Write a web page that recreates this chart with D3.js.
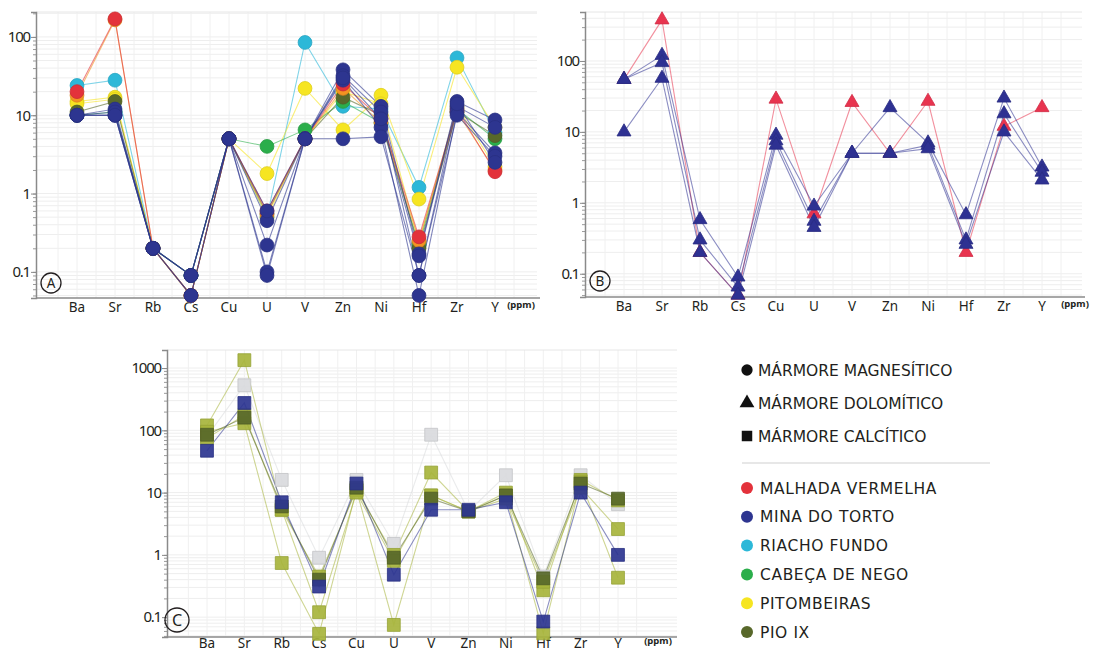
<!DOCTYPE html>
<html lang="pt">
<head>
<meta charset="UTF-8">
<title>Diagramas multielementares</title>
<style>
  body { margin: 0; background: #fff; }
  svg text { font-family: "Noto Sans", "DejaVu Sans", sans-serif; fill: #231f20; }
  svg text.leg { font-family: "DejaVu Sans", sans-serif; }
</style>
</head>
<body>
<div id="graph"></div>
<script src="https://cdn.jsdelivr.net/npm/d3@7/dist/d3.min.js"></script>
<script>
// elementos (eixo x) e rotulos do eixo y
var elements = ["Ba", "Sr", "Rb", "Cs", "Cu", "U", "V", "Zn", "Ni", "Hf", "Zr", "Y"];
var yTicksAB = [0.1, 1, 10, 100];
var yTicksC = [0.1, 1, 10, 100, 1000];

// A - marmore magnesitico (ppm)
var seriesA = [
  { group: "RF",  values: [24, 28, 0.2, 0.09, 5, 0.5, 85, 13, 12, 1.2, 54, 6] },
  { group: "PIT", values: [15, 17, 0.2, 0.05, 5, 1.8, 22, 6.5, 18, 0.85, 41, 7] },
  { group: "PIT", values: [14, 16, 0.2, 0.05, 5, 0.5, 5, 20, 14, 0.24, 13, 2.2] },
  { group: "CN",  values: [10, 11, 0.2, 0.09, 5, 4, 6.5, 15, 8, 0.22, 12, 5] },
  { group: "PIO", values: [11, 15, 0.2, 0.09, 5, 0.55, 5, 17, 10, 0.2, 11, 5.5] },
  { group: "OR",  values: [18, 165, 0.2, 0.05, 5, 0.55, 5, 22, 8, 0.25, 11, 2.0] },
  { group: "MV",  values: [20, 170, 0.2, 0.05, 5, 0.6, 5, 25, 9, 0.28, 12, 1.9] },
  { group: "MT",  values: [10, 10, 0.2, 0.09, 5, 0.45, 5, 38, 13, 0.17, 15, 8.7] },
  { group: "MT",  values: [10, 12, 0.2, 0.05, 5, 0.22, 5, 32, 11, 0.09, 13, 7] },
  { group: "MT",  values: [10, 10, 0.2, 0.09, 5, 0.1, 5, 28, 7, 0.05, 11, 3.3] },
  { group: "MT",  values: [10, 11, 0.2, 0.05, 5, 0.09, 5, 5, 5.3, 0.09, 10, 3] },
  { group: "MT",  values: [10, 10, 0.2, 0.09, 5, 0.6, 5, 30, 9, 0.16, 14, 2.5] }
];

// B - marmore dolomitico (ppm)
var seriesB = [
  { group: "MV", values: [55, 380, 0.2, 0.05, 29, 0.7, 26, 5, 27, 0.2, 12, 22] },
  { group: "MT", values: [55, 120, 0.58, 0.09, 9, 0.9, 5, 22, 7, 0.68, 30, 3.2] },
  { group: "MT", values: [55, 95, 0.3, 0.065, 7.5, 0.55, 5, 5, 6.5, 0.3, 18, 2.7] },
  { group: "MT", values: [10, 57, 0.2, 0.05, 6.5, 0.45, 5, 5, 5.8, 0.26, 10, 2.1] }
];

// C - marmore calcitico (ppm)
var seriesC = [
  { group: "GR",   values: [80, 530, 16, 0.9, 16, 1.5, 85, 5, 19, 0.45, 19, 6.5] },
  { group: "PIOL", values: [120, 1340, 5.3, 0.45, 11, 1.0, 21, 5, 10, 0.27, 16, 7.5] },
  { group: "PIOL", values: [95, 130, 0.74, 0.054, 11, 0.075, 9, 5, 9, 0.055, 15, 0.43] },
  { group: "PIOL", values: [75, 175, 5.3, 0.12, 10, 0.8, 9, 5, 8, 0.37, 12, 2.6] },
  { group: "PIO",  values: [85, 160, 6, 0.4, 12, 0.9, 8, 5, 9, 0.42, 14, 8] },
  { group: "MT",   values: [47, 275, 7, 0.31, 14, 0.48, 5.3, 5.3, 7, 0.085, 10, 1.0] }
];

var legendTypes = ["MÁRMORE MAGNESÍTICO", "MÁRMORE DOLOMÍTICO", "MÁRMORE CALCÍTICO"];
var legendLocalities = ["MALHADA VERMELHA", "MINA DO TORTO", "RIACHO FUNDO", "CABEÇA DE NEGO", "PITOMBEIRAS", "PIO IX"];
var legendKeys = ["MV", "MT", "RF", "CN", "PIT", "PIO"];

var colors = {
  MV: "#e3323b", OR: "#f39322", MT: "#2d3590", RF: "#2cb8d8", CN: "#2bae4b",
  PIT: "#f6e521", PIO: "#58682a", PIOL: "#a7b43c", GR: "#d9dadd"
};
var triColors = { MV: "#e8344f", MT: "#2e3192" };

var width = 1095, height = 652;
var svg = d3.select("#graph").append("svg")
  .attr("width", width).attr("height", height);

function drawPanel(p) {
  var x = d3.scalePoint().domain(elements).range([p.xFirst, p.xLast]);
  var y = d3.scaleLog().domain(p.yDomain).range([p.yBot, p.yTop]);
  var g = svg.append("g");

  // grade
  var minors = [];
  for (var e = -2; e <= 4; e++) {
    for (var m = 1; m <= 9; m++) {
      var v = m * Math.pow(10, e);
      if (v >= p.yDomain[0] && v <= p.yDomain[1]) minors.push(v);
    }
  }
  g.append("g").selectAll("line").data(minors).enter().append("line")
    .attr("x1", p.x0).attr("x2", p.x1)
    .attr("y1", function(d) { return y(d); }).attr("y2", function(d) { return y(d); })
    .attr("stroke", "#eeeeee").attr("stroke-width", 1);
  var step = x.step();
  var vx = [];
  elements.forEach(function(el) { vx.push(x(el)); vx.push(x(el) + step / 2); });
  vx.push(x(elements[0]) - step / 2);
  g.append("g").selectAll("line").data(vx).enter().append("line")
    .attr("x1", function(d) { return d; }).attr("x2", function(d) { return d; })
    .attr("y1", p.yTop).attr("y2", p.yBot)
    .attr("stroke", "#f0f0f0").attr("stroke-width", 1);
  g.append("line").attr("x1", p.x0).attr("x2", p.x1).attr("y1", p.yTop).attr("y2", p.yTop)
    .attr("stroke", "#e6e6e6");

  // eixo y
  var minorAxis = g.append("g").attr("transform", "translate(" + p.x0 + ",0)")
    .call(d3.axisLeft(y).tickValues(minors).tickSize(3).tickFormat(""));
  minorAxis.select(".domain").remove();
  minorAxis.selectAll("line").attr("stroke", "#9a9a9a");
  var yAxis = g.append("g").attr("transform", "translate(" + p.x0 + ",0)")
    .call(d3.axisLeft(y).tickValues(p.yTicks).tickSize(5).tickPadding(1)
      .tickFormat(function(d) { return d < 1 ? "0.1" : d3.format("d")(d); }));
  yAxis.select(".domain").attr("stroke", "#8a8a8a").attr("stroke-width", 1.5);
  yAxis.selectAll("line").attr("stroke", "#8a8a8a");
  yAxis.selectAll("text").attr("font-size", 15).attr("letter-spacing", -1.2)
    .attr("fill", "#231f20");

  // eixo x
  g.append("line").attr("x1", p.x0).attr("x2", p.xAxisEnd)
    .attr("y1", p.yBot).attr("y2", p.yBot)
    .attr("stroke", "#8a8a8a").attr("stroke-width", 1.5);
  g.append("g").selectAll("text").data(elements).enter().append("text")
    .attr("x", function(d) { return x(d); }).attr("y", p.yBot + p.labelDy)
    .attr("text-anchor", "middle").attr("font-size", 13.5)
    .text(function(d) { return d; });
  g.append("text").attr("x", p.ppmX).attr("y", p.yBot + p.labelDy - 4)
    .attr("text-anchor", "middle").attr("font-size", 9.5).attr("font-weight", "bold")
    .text("(ppm)");

  // linhas
  var line = d3.line()
    .x(function(d, i) { return x(elements[i]); })
    .y(function(d) { return y(d); });
  g.append("g").selectAll("path").data(p.series).enter().append("path")
    .attr("d", function(d) { return line(d.values); })
    .attr("fill", "none")
    .attr("stroke", function(d) { return p.color(d.group); })
    .attr("stroke-opacity", p.lineOpacity).attr("stroke-width", 1.1);

  // marcadores
  var pts = [];
  p.series.forEach(function(s) {
    s.values.forEach(function(v, i) { pts.push({ group: s.group, el: elements[i], v: v }); });
  });
  g.append("g").selectAll("path").data(pts).enter().append("path")
    .attr("transform", function(d) { return "translate(" + x(d.el) + "," + y(d.v) + ")"; })
    .attr("d", d3.symbol().type(p.shape).size(p.size))
    .attr("fill", function(d) { return p.color(d.group); })
    .attr("stroke", function(d) { return d3.color(p.color(d.group)).darker(0.3); })
    .attr("stroke-width", 0.8)
    .attr("fill-opacity", p.markOpacity);

  // letra do painel
  g.append("circle").attr("cx", p.lx).attr("cy", p.ly).attr("r", p.lr)
    .attr("fill", "none").attr("stroke", "#231f20").attr("stroke-width", 1.3);
  g.append("text").attr("x", p.lx).attr("y", p.ly + p.lr * 0.48)
    .attr("text-anchor", "middle").attr("font-size", p.lr * 1.35)
    .text(p.letter);
}

drawPanel({
  series: seriesA, shape: d3.symbolCircle, size: 150, markOpacity: 1, lineOpacity: 0.6,
  color: function(g) { return colors[g]; },
  x0: 36, x1: 537, xAxisEnd: 540, xFirst: 77, xLast: 495, yTop: 12, yBot: 298,
  yDomain: [0.0464, 208], yTicks: yTicksAB, ppmX: 521, labelDy: 14,
  lx: 51, ly: 283, lr: 10, letter: "A"
});
drawPanel({
  series: seriesB, shape: d3.symbolTriangle, size: 85, markOpacity: 1, lineOpacity: 0.55,
  color: function(g) { return triColors[g]; },
  x0: 585, x1: 1082, xAxisEnd: 1085, xFirst: 624, xLast: 1042, yTop: 12, yBot: 297,
  yDomain: [0.047, 490], yTicks: yTicksAB, ppmX: 1075, labelDy: 14,
  lx: 600, ly: 281, lr: 10, letter: "B"
});
drawPanel({
  series: seriesC, shape: d3.symbolSquare, size: 165, markOpacity: 0.92, lineOpacity: 0.55,
  color: function(g) { return colors[g]; },
  x0: 167, x1: 677, xAxisEnd: 677, xFirst: 207, xLast: 618, yTop: 350, yBot: 637,
  yDomain: [0.048, 1950], yTicks: yTicksC, ppmX: 658, labelDy: 11,
  lx: 177, ly: 620, lr: 12, letter: "C"
});

// legenda
var lg = svg.append("g");
var typeShapes = [d3.symbolCircle, d3.symbolTriangle, d3.symbolSquare];
var typeSizes = [100, 95, 110];
var typeY = d3.scalePoint().domain(legendTypes).range([370, 436]);
legendTypes.forEach(function(t, i) {
  lg.append("path")
    .attr("transform", "translate(747," + typeY(t) + ")")
    .attr("d", d3.symbol().type(typeShapes[i]).size(typeSizes[i]))
    .attr("fill", "#111");
  lg.append("text").attr("class", "leg").attr("x", 758).attr("y", typeY(t) + 5.5)
    .attr("font-size", 15.5).text(t);
});
lg.append("line").attr("x1", 742).attr("x2", 990).attr("y1", 463).attr("y2", 463)
  .attr("stroke", "#cfcfcf");
var locY = d3.scalePoint().domain(legendLocalities).range([488, 632]);
legendLocalities.forEach(function(t, i) {
  lg.append("circle").attr("cx", 747).attr("cy", locY(t)).attr("r", 6)
    .attr("fill", colors[legendKeys[i]]);
  lg.append("text").attr("class", "leg").attr("x", 760).attr("y", locY(t) + 5.5)
    .attr("font-size", 15.5).attr("letter-spacing", 0.6).text(t);
});
</script>
</body>
</html>
